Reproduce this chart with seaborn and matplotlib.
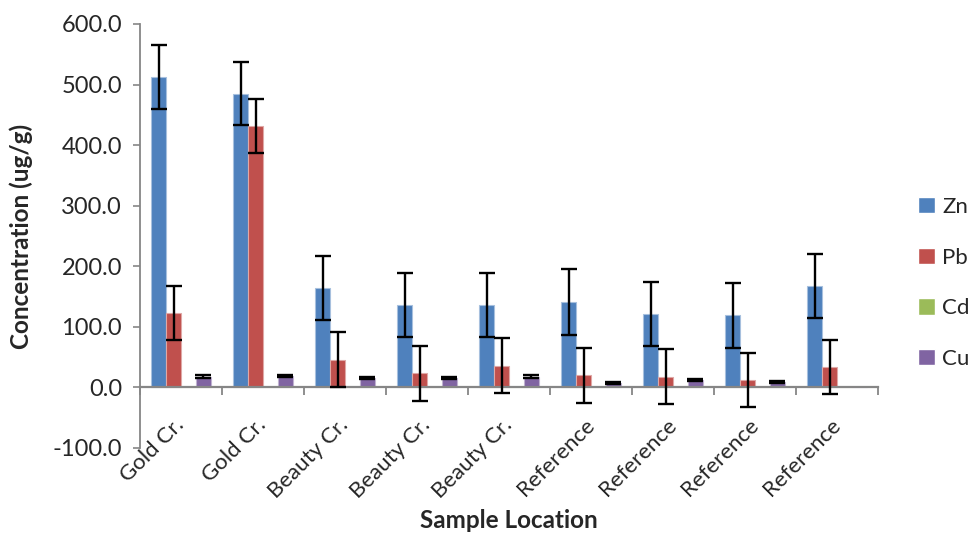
import matplotlib
matplotlib.use("Agg")
import matplotlib.pyplot as plt
import seaborn as sns
import pandas as pd
import numpy as np

# ---- data ----
locations = ["Gold Cr.", "Gold Cr.", "Beauty Cr.", "Beauty Cr.", "Beauty Cr.",
             "Reference", "Reference", "Reference", "Reference"]
metals = ["Zn", "Pb", "Cd", "Cu"]
zn = [512, 485, 164, 136, 136, 141, 121, 119, 167]
pb = [123, 432, 46, 23, 36, 20, 18, 12, 34]
cd = [1.5, 1.5, 1.2, 1.2, 1.2, 1.0, 1.0, 1.0, 1.5]
cu = [18, 19, 16, 16, 18, 7, 12, 9, 0]
zn_err = [53, 52, 53, 53, 53, 54, 53, 54, 53]
pb_err = [45, 45, 46, 45, 46, 45, 46, 45, 45]
cd_err = [0, 0, 0, 0, 0, 0, 0, 0, 0]
cu_err = [2, 2, 2, 2, 2, 2, 2, 2, 0]
colors = ["#4F81BD", "#C0504D", "#9BBB59", "#8064A2"]
edge_colors = ["#A7C0DE", "#DFA8A6", "#CDDDAC", "#BFB1D0"]
yticks = [-100, 0, 100, 200, 300, 400, 500, 600]

values = {"Zn": zn, "Pb": pb, "Cd": cd, "Cu": cu}
errors = {"Zn": zn_err, "Pb": pb_err, "Cd": cd_err, "Cu": cu_err}

rows = []
for m in metals:
    for i, v in enumerate(values[m]):
        rows.append({"site": i, "metal": m, "value": v})
df = pd.DataFrame(rows)

sns.set_style("white")
plt.rcParams["font.family"] = ["Lato", "DejaVu Sans"]

fig = plt.figure(figsize=(9.74, 5.36), dpi=100)
ax = fig.add_axes([140 / 974, 1 - 448 / 536, (878 - 140) / 974, (448 - 24) / 536])

sns.barplot(data=df, x="site", y="value", hue="metal", hue_order=metals,
            order=list(range(len(locations))), palette=colors, width=0.73,
            errorbar=None, ax=ax, legend=True, saturation=1)

for cont, m, ec in zip(ax.containers, metals, edge_colors):
    xs, ys, es = [], [], []
    for p, v, e in zip(cont.patches, values[m], errors[m]):
        p.set_edgecolor(ec)
        p.set_linewidth(0.8)
        if e > 0:
            xs.append(p.get_x() + p.get_width() / 2)
            ys.append(v)
            es.append(e)
    if xs:
        ax.errorbar(xs, ys, yerr=es, fmt="none", ecolor="black",
                    elinewidth=1.7, capsize=6, capthick=1.7, zorder=5)

ax.set_ylim(-100, 600)
ax.set_xlim(-0.5, len(locations) - 0.5)
ax.set_yticks(yticks)
ax.set_yticklabels([f"{t:.1f}" for t in yticks], fontsize=17)

axis_gray = "#868686"
for s in ["top", "right"]:
    ax.spines[s].set_visible(False)
ax.spines["left"].set_color(axis_gray)
ax.spines["left"].set_linewidth(1.3)
ax.spines["bottom"].set_position(("data", 0))
ax.spines["bottom"].set_color(axis_gray)
ax.spines["bottom"].set_linewidth(1.6)

ax.tick_params(axis="y", which="major", direction="out", length=5, width=1.2,
               color=axis_gray, left=True, pad=8)

ax.set_xticks(range(len(locations)))
ax.set_xticklabels(locations, fontsize=16, rotation=45, ha="right", va="center",
                   rotation_mode="anchor")
ax.tick_params(axis="x", which="major", length=0, pad=25)
ax.set_xticks(np.arange(-0.5, len(locations), 1.0), minor=True)
ax.tick_params(axis="x", which="minor", direction="out", length=6, width=1.3,
               color=axis_gray, bottom=True)

ax.set_xlabel("Sample Location", fontsize=17.5, fontweight="bold")
ax.xaxis.set_label_coords(0.5, -0.145)
ax.set_ylabel("Concentration (ug/g)", fontsize=17.5, fontweight="bold")
ax.yaxis.set_label_coords(-0.145, 0.5)

handles, labels = ax.get_legend_handles_labels()
ax.get_legend().remove()
fig.legend(handles, labels, loc="center left", bbox_to_anchor=(918 / 974, 1 - 283 / 536),
           frameon=False, fontsize=16, handlelength=0.75, handleheight=0.75,
           handletextpad=0.35, labelspacing=1.38, borderaxespad=0, borderpad=0)

fig.savefig("out.png", dpi=100)
